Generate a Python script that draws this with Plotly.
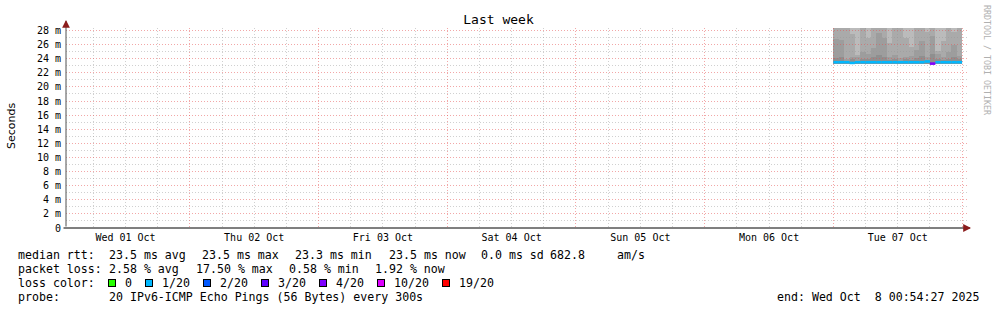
import plotly.graph_objects as go
import pandas as pd

# ---------------- data ----------------
TITLE = "Last week"
Y_TITLE = "Seconds"
WATERMARK = "RRDTOOL / TOBI OETIKER"
X_START = "2025-10-01 00:54:27"
X_END = "2025-10-08 00:54:27"
DAY_LABELS = ["Wed 01 Oct", "Thu 02 Oct", "Fri 03 Oct", "Sat 04 Oct",
              "Sun 05 Oct", "Mon 06 Oct", "Tue 07 Oct"]
DAY_NOONS = pd.date_range("2025-10-01 12:00", periods=len(DAY_LABELS), freq="D")
Y_TICK_VALS = [0, 2, 4, 6, 8, 10, 12, 14, 16, 18, 20, 22, 24, 26, 28]
Y_TICK_TEXT = ["0", "2 m", "4 m", "6 m", "8 m", "10 m", "12 m", "14 m", "16 m",
               "18 m", "20 m", "22 m", "24 m", "26 m", "28 m"]
Y_MAX = 28.35

# hourly consolidated values for Tue 07 Oct (ms)
HOURS = pd.date_range("2025-10-07 00:00", periods=24, freq="h")
MEDIAN_MS = [23.5, 23.5, 23.5, 23.4, 23.5, 23.5, 23.5, 23.5, 23.5, 23.5, 23.5, 23.5,
             23.5, 23.5, 23.5, 23.5, 23.5, 23.6, 23.3, 23.5, 23.5, 23.5, 23.5, 23.5]
LOSS_PCT = [1.25, 0.58, 1.67, 2.08, 1.33, 0.92, 1.75, 2.50, 1.08, 1.42, 2.17, 0.83,
            1.58, 1.92, 2.25, 1.00, 1.17, 2.33, 17.50, 1.50, 0.75, 2.00, 1.83, 1.92]
SMOKE_LO = [23.3, 23.3, 23.3, 23.3, 23.2, 23.3, 23.3, 23.3, 23.3, 23.3, 23.3, 23.3,
            23.3, 23.3, 23.3, 23.3, 23.3, 23.3, 23.2, 23.3, 23.3, 23.3, 23.3, 23.3]
SMOKE_B1 = [24.1, 24.2, 23.8, 23.9, 23.7, 24.0, 23.9, 24.3, 24.5, 24.2, 23.8, 24.0,
            23.7, 23.9, 23.8, 24.1, 24.4, 23.8, 24.6, 23.9, 23.8, 24.0, 24.2, 23.9]
SMOKE_B2 = [26.8, 26.6, 24.0, 24.3, 24.2, 25.0, 24.6, 25.5, 27.6, 26.9, 24.2, 24.5,
            24.1, 24.3, 24.4, 25.2, 26.5, 24.3, 27.2, 24.6, 24.3, 25.0, 26.0, 24.4]
SMOKE_B3 = [28.6, 28.6, 28.6, 27.5, 24.5, 28.6, 27.0, 28.6, 28.6, 28.6, 26.2, 28.6,
            28.6, 26.9, 25.6, 28.6, 28.6, 27.8, 28.6, 25.1, 26.5, 28.6, 27.8, 28.6]
SMOKE_HI = [30.1, 29.8, 30.4, 29.6, 30.2, 29.9, 30.0, 30.3, 29.7, 30.1, 29.9, 30.2,
            30.0, 29.8, 30.1, 29.9, 30.4, 30.0, 30.2, 29.7, 30.0, 30.1, 29.9, 30.0]
SMOKE_SHADES = ["#8f8f8f", "#9d9d9d", "#aaaaaa", "#bbbbbb"]

LOSS_LEVELS = [0, 1, 2, 3, 4, 10, 19]
LOSS_LABELS = ["0", "1/20", "2/20", "3/20", "4/20", "10/20", "19/20"]
LOSS_COLORS = ["#26ff00", "#00b8ff", "#0059ff", "#5e00ff", "#7e00ff", "#dd00ff", "#ff0000"]
PINGS = 20

ROW1 = [("median rtt:", 16), ("23.5 ms avg", 107), ("23.5 ms max", 200),
        ("23.3 ms min", 293), ("23.5 ms now", 387), ("0.0 ms sd", 479),
        ("682.8", 548), ("am/s", 615)]
ROW2 = [("packet loss:", 16), ("2.58 % avg", 107), ("17.50 % max", 194),
        ("0.58 % min", 287), ("1.92 % now", 373)]
ROW3_LABEL = "loss color:"
ROW4 = [("probe:", 16), ("20 IPv6-ICMP Echo Pings (56 Bytes) every 300s", 107)]
END_TEXT = "end: Wed Oct  8 00:54:27 2025"

# ---------------- geometry ----------------
W, H = 997, 310
L, R, T, B = 66, 30, 28, 82
PW, PH = W - L - R, H - T - B
FONT = "DejaVu Sans Mono"


def px(x):
    return (x - L) / PW


def py(y):
    return (H - B - y) / PH


def nb(s):
    return s.replace(" ", "\u00a0")


fig = go.Figure()

# smoke bands
centers = HOURS + pd.Timedelta(minutes=30)
bounds = [SMOKE_LO, SMOKE_B1, SMOKE_B2, SMOKE_B3, SMOKE_HI]
for i, shade in enumerate(SMOKE_SHADES):
    lo, hi = bounds[i], bounds[i + 1]
    fig.add_trace(go.Bar(
        x=centers, y=[h - l for l, h in zip(lo, hi)], base=lo,
        width=3600000, marker=dict(color=shade, line=dict(width=0)),
        xaxis="x", yaxis="y", showlegend=False, hoverinfo="skip"))

# median line coloured by loss
def loss_index(pct):
    cnt = pct / 100.0 * PINGS
    for k, lev in enumerate(LOSS_LEVELS):
        if cnt <= lev + 1e-9:
            return k
    return len(LOSS_LEVELS) - 1

groups = {}
for t, m, lp in zip(HOURS, MEDIAN_MS, LOSS_PCT):
    k = loss_index(lp)
    xs, ys = groups.setdefault(k, ([], []))
    xs += [t, t + pd.Timedelta(hours=1), None]
    ys += [m, m, None]
for k, (xs, ys) in groups.items():
    fig.add_trace(go.Scatter(
        x=xs, y=ys, mode="lines", line=dict(color=LOSS_COLORS[k], width=2.6),
        xaxis="x2", yaxis="y2", showlegend=False, hoverinfo="skip"))

RED_GRID = "rgba(230,80,80,0.5)"
GRAY_GRID = "rgba(150,150,150,0.45)"
DASH = "1px,2px"

fig.update_layout(
    width=W, height=H,
    margin=dict(l=L, r=R, t=T, b=B),
    paper_bgcolor="white", plot_bgcolor="rgba(0,0,0,0)",
    barmode="overlay", bargap=0,
    font=dict(family=FONT, size=10, color="black"),
    title=dict(text=TITLE, x=0.5, xanchor="center", y=1 - 19 / H, yanchor="middle",
               yref="container", font=dict(family=FONT, size=13, color="black")),
    xaxis=dict(type="date", range=[X_START, X_END], domain=[0, 1], anchor="y",
               tickmode="array", tickvals=DAY_NOONS, ticktext=DAY_LABELS,
               showgrid=False, zeroline=False, showline=False, ticks="",
               ticklabelstandoff=2,
               tickfont=dict(family=FONT, size=10, color="black")),
    yaxis=dict(range=[0, Y_MAX], domain=[0, 1], anchor="x",
               tickmode="array", tickvals=Y_TICK_VALS, ticktext=Y_TICK_TEXT,
               showgrid=False, zeroline=False, showline=False, ticks="",
               ticklabelstandoff=4,
               tickfont=dict(family=FONT, size=10, color="black")),
    xaxis2=dict(type="date", range=[X_START, X_END], domain=[0, 1], anchor="y2",
                tickmode="linear", tick0="2025-10-01 00:00:00", dtick=86400000,
                showticklabels=False, ticks="", zeroline=False, showline=False,
                showgrid=True, gridcolor=RED_GRID, griddash=DASH, gridwidth=1,
                minor=dict(dtick=21600000, tick0="2025-10-01 00:00:00", showgrid=True,
                           gridcolor=GRAY_GRID, griddash=DASH, gridwidth=1)),
    yaxis2=dict(range=[0, Y_MAX], domain=[0, 1], anchor="x2",
                tickmode="linear", tick0=0, dtick=2,
                showticklabels=False, ticks="", zeroline=False, showline=False,
                showgrid=True, gridcolor=RED_GRID, griddash=DASH, gridwidth=1,
                minor=dict(dtick=1, showgrid=True, gridcolor=GRAY_GRID,
                           griddash=DASH, gridwidth=1)),
)

ann = []
# y axis line + arrow head
ann.append(dict(x=0, y=1, xref="paper", yref="paper", text="", showarrow=True,
                ax=0, ay=PH + 7, yshift=7, arrowhead=0, arrowwidth=1,
                arrowcolor="#505050"))
ann.append(dict(x=0, y=1, xref="paper", yref="paper", text="", showarrow=True,
                ax=0, ay=6, yshift=8, arrowhead=2, arrowsize=1.3, arrowwidth=1.2,
                arrowcolor="#8b1c1c"))
# x axis line + arrow head
ann.append(dict(x=1, y=0, xref="paper", yref="paper", text="", showarrow=True,
                ax=-(PW + 7), ay=0, xshift=3, arrowhead=0, arrowwidth=1,
                arrowcolor="black"))
ann.append(dict(x=1, y=0, xref="paper", yref="paper", text="", showarrow=True,
                ax=-6, ay=0, xshift=4, arrowhead=2, arrowsize=1.3, arrowwidth=1.2,
                arrowcolor="#8b1c1c"))
# y title
ann.append(dict(x=px(11), y=py(126), xref="paper", yref="paper", text=Y_TITLE,
                textangle=-90, showarrow=False, xanchor="center", yanchor="middle",
                font=dict(family="DejaVu Sans", size=11, color="black")))
# watermark
ann.append(dict(x=px(987), y=py(60), xref="paper", yref="paper", text=nb(WATERMARK),
                textangle=90, showarrow=False, xanchor="center", yanchor="middle",
                font=dict(family=FONT, size=8.3, color="#b0b0b0")))

LEG_SIZE = 11.6
ROW_Y = [255, 268.7, 282.5, 296.5]
for row, yy in ((ROW1, ROW_Y[0]), (ROW2, ROW_Y[1]), (ROW4, ROW_Y[3])):
    for text, x0 in row:
        ann.append(dict(x=px(x0), y=py(yy), xref="paper", yref="paper", text=nb(text),
                        showarrow=False, xanchor="left", yanchor="middle",
                        font=dict(family=FONT, size=LEG_SIZE, color="black")))
ann.append(dict(x=px(981), y=py(ROW_Y[3]), xref="paper", yref="paper", text=nb(END_TEXT),
                showarrow=False, xanchor="right", yanchor="middle",
                font=dict(family=FONT, size=LEG_SIZE, color="black")))
ann.append(dict(x=px(16), y=py(ROW_Y[2]), xref="paper", yref="paper", text=nb(ROW3_LABEL),
                showarrow=False, xanchor="left", yanchor="middle",
                font=dict(family=FONT, size=LEG_SIZE, color="black")))
sq = 108.0
for lab, col in zip(LOSS_LABELS, LOSS_COLORS):
    ann.append(dict(x=px(sq), y=py(ROW_Y[2]), xref="paper", yref="paper", text=" ",
                    showarrow=False, xanchor="left", yanchor="middle",
                    width=6, height=6, bgcolor=col, bordercolor="black",
                    borderwidth=1, borderpad=0, font=dict(size=4)))
    ann.append(dict(x=px(sq + 15), y=py(ROW_Y[2]), xref="paper", yref="paper", text=lab,
                    showarrow=False, xanchor="left", yanchor="middle",
                    font=dict(family=FONT, size=LEG_SIZE, color="black")))
    sq = sq + 15 + len(lab) * 7 + 15

fig.update_layout(annotations=ann)
fig.write_html("out.html")
